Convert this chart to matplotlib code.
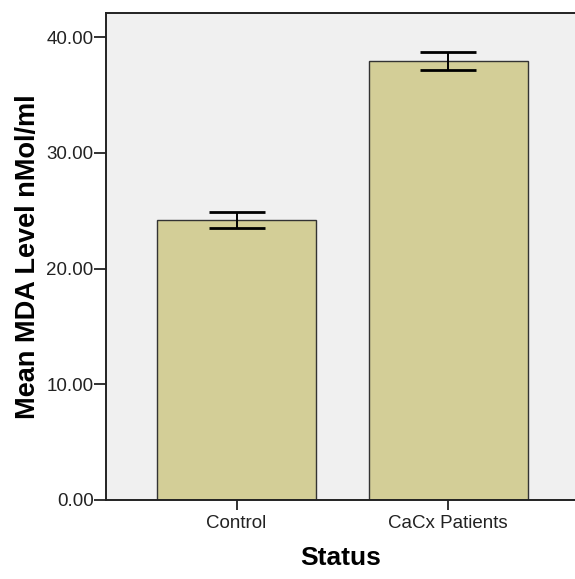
"""Mean MDA level by status, bar chart with error bars."""

import matplotlib.pyplot as plt

categories = ["Control", "CaCx Patients"]
means = [24.22, 37.95]
errors = [0.72, 0.78]
y_ticks = [0, 10, 20, 30, 40]

plt.rcParams["font.family"] = ["Liberation Sans", "DejaVu Sans"]

fig = plt.figure(figsize=(5.75, 5.79), dpi=100)
ax = fig.add_axes([106 / 575, 79 / 579, 1 - 106 / 575, 487 / 579])
ax.set_facecolor("#f0f0f0")

x = list(range(len(categories)))
ax.bar(x, means, width=0.752, color="#d3ce97", edgecolor="#333333", linewidth=1.0,
       zorder=2)
ax.errorbar(x, means, yerr=errors, fmt="none", ecolor="black", elinewidth=1.4,
            capsize=20, capthick=2.0, zorder=3)

ax.set_xlim(-0.617, 1.6)
ax.set_ylim(0, 42.1)
ax.set_yticks(y_ticks)
ax.set_yticklabels([f"{v:.2f}" for v in y_ticks])
ax.set_xticks(x)
ax.set_xticklabels(categories)
ax.tick_params(axis="both", labelsize=13.5, width=1.3, colors="#222222")
ax.tick_params(axis="y", length=8.5, pad=0.5)
ax.tick_params(axis="x", length=7, pad=4)

for side in ["left", "bottom", "top"]:
    ax.spines[side].set_linewidth(1.4)
    ax.spines[side].set_color("#222222")
ax.spines["right"].set_visible(False)

ax.set_ylabel("Mean MDA Level nMol/ml", fontsize=19.5, fontweight="bold", labelpad=4)
ax.set_xlabel("Status", fontsize=19, fontweight="bold", labelpad=10)

fig.savefig("out.png", dpi=100)
